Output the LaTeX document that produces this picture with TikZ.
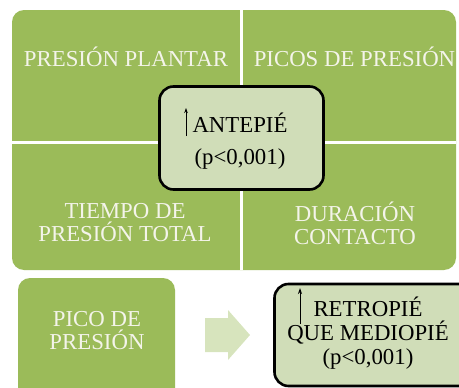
\documentclass[tikz,border=0pt]{standalone}
\usepackage{fontspec}
\setmainfont{Liberation Serif}
\usetikzlibrary{arrows.meta,positioning}
\definecolor{verde}{HTML}{9BBB59}
\definecolor{claro}{HTML}{D0DDB8}
\definecolor{flechac}{HTML}{D7E4BD}
\definecolor{blanco}{HTML}{F4F4EA}

\begin{document}
\begin{tikzpicture}[x=1pt,y=-1pt,font=\fontsize{22.8}{23}\selectfont,every node/.append style={align=center},quad/.style={text=blanco, inner sep=0pt},res/.style={draw, line width=2.6pt, rounded corners=14pt, fill=claro},sube/.style={-{Stealth[length=6pt,width=4pt]}, line width=1pt},]
    \useasboundingbox (0,0) rectangle (459,388);
    \clip (0,0) rectangle (459,388);
    % bloque de cuatro cuadrantes
    \fill[verde, rounded corners=12pt] (12,10) rectangle (456,270);
    \draw[white, line width=3pt] (241.5,10) -- (241.5,270) (12,142.5) -- (456,142.5);
    \node [quad] (PP) at (126,57)                 {PRESIÓN PLANTAR};
    \node [quad] (PI) at (354.5,57)               {PICOS DE PRESIÓN};
    \node [quad] (TP) at (125,223)                {TIEMPO DE\\PRESIÓN TOTAL};
    \node [quad] (DC) at (355,223)                {DURACIÓN\\CONTACTO};
    \node [res, minimum width=164pt, minimum height=103pt] (ANT) at (241.5,138) {};
    \node [font=\fontsize{22.8}{32}\selectfont] (ANTt) at (240,141) {ANTEPIÉ\\(p<0,001)};
    \coordinate (a1) at (186,136);
    \coordinate (a2) at (186,108);
    \draw [-{Stealth[length=5pt,width=3.5pt]}, line width=0.8pt] (a1) -- (a2);
    % fila inferior
    \fill[verde, rounded corners=12pt] (18,278) rectangle (175,400);
    \node [quad] (PIC) at (97,331)                {PICO DE\\PRESIÓN};
    \fill[flechac] (205,318) -- (228,318) -- (228,310) -- (250,335) -- (228,360) -- (228,352) -- (205,352) -- cycle;
    \node [res, minimum width=200pt, minimum height=102pt] (RP) at (374.5,335) {};
    \node [font=\fontsize{22.8}{24}\selectfont] (RPt) at (368,333) {RETROPIÉ\\QUE MEDIOPIÉ\\(p<0,001)};
    \coordinate (b1) at (300,324);
    \coordinate (b2) at (300,288);
    \draw [sube] (b1) -- (b2);
\end{tikzpicture}
\end{document}
